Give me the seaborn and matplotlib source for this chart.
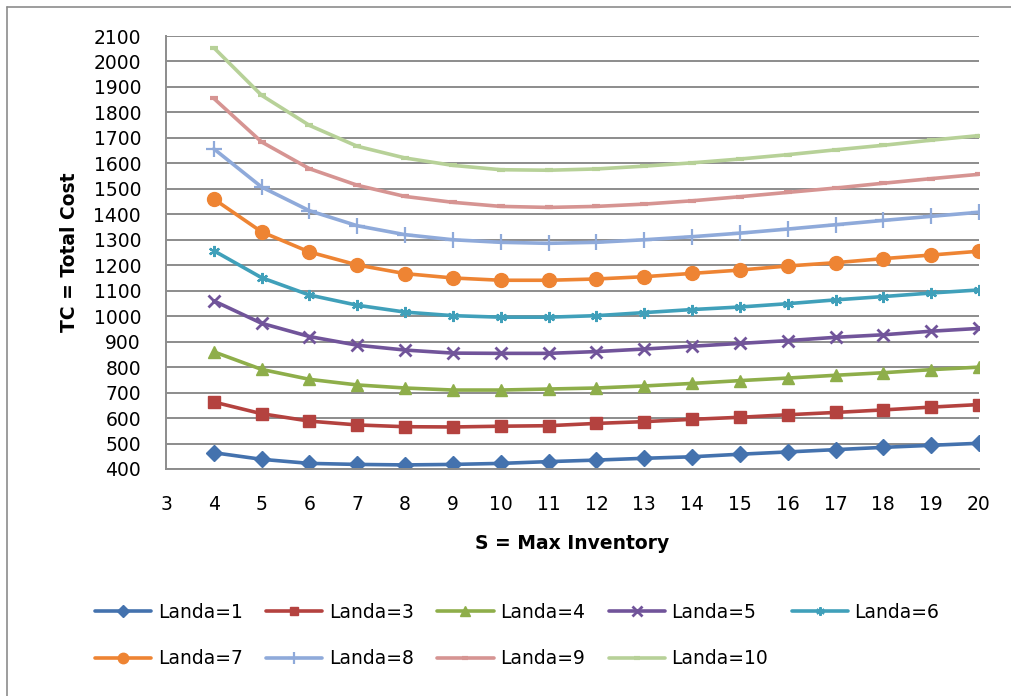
import numpy as np
import pandas as pd
import matplotlib
matplotlib.use("Agg")
import matplotlib.pyplot as plt
import seaborn as sns
from matplotlib.lines import Line2D

# data
s_values = list(range(4, 21))

landa_1 = [464, 438, 422, 418, 416, 418, 422, 429, 435, 442, 448, 458, 467, 476, 485, 493, 501]
landa_3 = [663, 617, 588, 573, 566, 565, 568, 570, 579, 586, 595, 603, 613, 622, 632, 643, 653]
landa_4 = [860, 791, 752, 730, 718, 710, 710, 714, 718, 726, 736, 747, 757, 768, 778, 790, 800]
landa_5 = [1060, 972, 920, 886, 867, 855, 854, 854, 861, 871, 882, 893, 904, 917, 927, 941, 952]
landa_6 = [1257, 1151, 1083, 1043, 1016, 1002, 996, 996, 1002, 1014, 1026, 1036, 1049, 1064, 1077, 1091, 1103]
landa_7 = [1460, 1331, 1252, 1201, 1167, 1150, 1141, 1141, 1146, 1155, 1168, 1181, 1197, 1210, 1226, 1240, 1255]
landa_8 = [1657, 1507, 1414, 1355, 1320, 1300, 1290, 1286, 1290, 1300, 1312, 1326, 1342, 1359, 1376, 1392, 1408]
landa_9 = [1855, 1684, 1579, 1514, 1470, 1447, 1431, 1427, 1431, 1440, 1453, 1469, 1486, 1503, 1522, 1540, 1557]
landa_10 = [2054, 1867, 1749, 1667, 1621, 1592, 1575, 1573, 1578, 1589, 1602, 1617, 1634, 1653, 1671, 1691, 1709]

series_names = ["Landa=1", "Landa=3", "Landa=4", "Landa=5", "Landa=6",
                "Landa=7", "Landa=8", "Landa=9", "Landa=10"]
series_values = [landa_1, landa_3, landa_4, landa_5, landa_6,
                 landa_7, landa_8, landa_9, landa_10]

x_ticks = list(range(3, 21))
y_ticks = list(range(400, 2101, 100))

# styles per series: color, marker, size, edge width
styles = [
    ("#4472AE", "D", 8, 1.0),
    ("#B4423F", "s", 8, 1.0),
    ("#8EAE4A", "^", 9, 1.0),
    ("#71549A", "x", 9, 2.0),
    ("#40A0BA", (6, 2, 0), 8, 1.6),
    ("#EE8433", "o", 10, 1.0),
    ("#8FAADA", "+", 11, 1.6),
    ("#D69492", "_", 6, 3.0),
    ("#B7D198", "_", 6, 3.0),
]

sns.set_style("white")
plt.rcParams["font.family"] = ["DejaVu Sans"]
plt.rcParams["text.color"] = "black"
plt.rcParams["axes.labelcolor"] = "black"

fig = plt.figure(figsize=(10.11, 6.96), dpi=100)
ax = fig.add_axes([166 / 1011, 1 - 469 / 696, (979 - 166) / 1011, (469 - 36) / 696])

handles = []
for name, vals, (col, mk, ms, mew) in zip(series_names, series_values, styles):
    sns.lineplot(x=s_values, y=vals, ax=ax, color=col, linewidth=2.6,
                 marker=mk, markersize=ms, markeredgewidth=mew,
                 markeredgecolor=col, markerfacecolor=col, label=name)
    handles.append(Line2D([], [], color=col, linewidth=2.6, marker=mk,
                          markersize=ms * 0.75, markeredgewidth=mew,
                          markeredgecolor=col, markerfacecolor=col))

ax.get_legend().remove()

ax.set_xlim(3, 20)
ax.set_ylim(400, 2100)
ax.set_xticks(x_ticks)
ax.set_yticks(y_ticks)
ax.tick_params(axis="both", labelsize=13.5, colors="#8C8C8C", labelcolor="black",
               length=7, width=1.3, direction="out")
ax.tick_params(axis="x", pad=12)
ax.tick_params(axis="y", pad=11)

ax.yaxis.grid(True, color="#8C8C8C", linewidth=1.4)
ax.xaxis.grid(False)
ax.set_axisbelow(True)
for side in ["top", "right"]:
    ax.spines[side].set_visible(False)
for side in ["left", "bottom"]:
    ax.spines[side].set_color("#8C8C8C")
    ax.spines[side].set_linewidth(1.4)

ax.set_xlabel("S = Max Inventory", fontsize=13.5, fontweight="bold", labelpad=14)
ax.set_ylabel("TC = Total Cost", fontsize=13.5, fontweight="bold", labelpad=10)

# legend fills column by column, so reorder to read row by row
order = [0, 5, 1, 6, 2, 7, 3, 8, 4]
fig.legend([handles[i] for i in order], [series_names[i] for i in order], loc="upper left",
           bbox_to_anchor=(95 / 1011, 1 - 603 / 696), ncol=5, frameon=False,
           fontsize=13.5, handlelength=3.0, handletextpad=0.35,
           columnspacing=1.25, labelspacing=1.45, borderpad=0, borderaxespad=0)

# chart border (only left and top visible in the crop)
fig.add_artist(Line2D([7 / 1011, 7 / 1011], [0, 1 - 7 / 696], transform=fig.transFigure,
                      color="#8C8C8C", linewidth=1.2))
fig.add_artist(Line2D([7 / 1011, 1], [1 - 7 / 696, 1 - 7 / 696], transform=fig.transFigure,
                      color="#8C8C8C", linewidth=1.2))

fig.savefig("out.png", dpi=100)
